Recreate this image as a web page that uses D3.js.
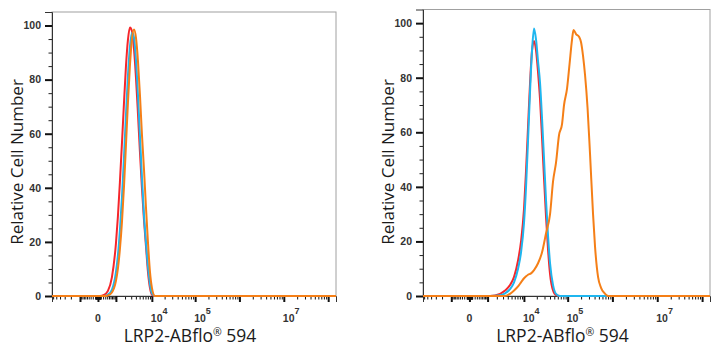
<!DOCTYPE html>
<html>
<head>
<meta charset="utf-8">
<script src="https://cdn.jsdelivr.net/npm/d3@7"></script>
<style>
  body { margin: 0; background: #fff; }
  svg { display: block; }
</style>
</head>
<body>
<svg width="719" height="350"></svg>
<script>
// axe x : intensité de fluorescence (biexponentielle, approchée par symlog)
const xDomain = [-6400, 1.5e8];
const yDomain = [0, 105];

// ticks de l'axe y (en % du max)
const yMajor = [0, 20, 40, 60, 80, 100];
const yMinor = [5, 10, 15, 25, 30, 35, 45, 50, 55, 65, 70, 75, 85, 90, 95];

// ticks de l'axe x
const xMajor = [-1000, 0, 1000, 1e4, 1e5, 1e6, 1e7, 1e8];
const xDecades = [10, 100, 1000, 1e4, 1e5, 1e6, 1e7];
const xMantissas = [2, 3, 4, 5, 6, 7, 8, 9];
const xLabelValues = [0, 1e4, 1e5, 1e7];
const xLabelExps = ["", "4", "5", "7"];

const yTitle = "Relative Cell Number";
const xTitle = ["LRP2-ABflo", "®", " 594"];

// panneau gauche : les trois courbes se superposent
const leftX = [70, 240, 440, 690, 1000, 1180, 1380, 1610, 1860, 2130, 2430, 2770, 3140, 3560, 4020, 4530, 5090, 5720, 6420, 7190, 8040, 9000, 10050, 11840];
const leftRed = [0, 0.4, 1.9, 6.9, 19.3, 29.4, 42.1, 56.6, 71.5, 85, 94.7, 99.3, 98, 91.4, 80.7, 67.4, 53.3, 39.9, 28.2, 18.5, 9, 3, 0.5, 0];
const leftBlue = [0, 0, 0.5, 2.3, 8.7, 15, 24.3, 36.6, 51.4, 66.9, 81.4, 92.2, 97.3, 95.6, 87.4, 74.5, 59.1, 43.8, 30, 20, 11, 4.5, 1, 0];
const leftOrange = [0, 0, 0.2, 1.3, 5.5, 10.1, 17.3, 27.4, 40.5, 55.8, 71.5, 85.4, 95, 98.5, 95.5, 86.9, 74.4, 59.7, 47, 33, 20, 9, 3, 0];

// panneau droit : contrôles (rouge, bleu) et échantillon (orange)
const rightX = [1220, 2480, 3390, 4570, 5770, 7230, 8540, 10070, 11230, 12510, 13940, 15520, 17260, 19200, 21350, 23730, 26360, 29290, 32510, 36110, 40100, 46870, 54800, 67400];
const rightRed = [0, 0.8, 2, 4, 7, 13, 20, 32, 46, 62, 78, 90, 93.5, 90, 82, 72, 58, 43, 29, 17, 8, 2, 0.3, 0];
const rightBlue = [0, 0.3, 1, 2.5, 5, 10, 16, 27, 40, 57, 75, 90, 98, 94, 86, 78, 65, 50, 35, 22, 12, 4, 0.8, 0];
const rightOrangeX = [3390, 4570, 5770, 7230, 8540, 10070, 11230, 12510, 14700, 17260, 21350, 26360, 32510, 40100, 46870, 54800, 64000, 74750, 82900, 96800, 110200, 125300, 135400, 154000, 179800, 199400, 221000, 245000, 278600, 316800, 369700, 409900, 478200, 557900, 650600, 799000];
const rightOrange = [0, 0.8, 2, 3.5, 5, 6.5, 7.2, 7.8, 8.3, 9.5, 12, 16, 23, 30, 42, 49, 59, 63, 70, 76, 85, 94, 97.5, 96, 95, 93, 88, 81, 69, 52, 30, 18, 7, 3, 1.2, 0];

const colors = { red: "#f5262b", blue: "#1fb6ef", orange: "#f57f17" };

// ticks mineurs = mantisses x décades (positifs et négatifs dans le domaine)
let xMinor = [];
for (const dec of xDecades) {
  for (const m of xMantissas) {
    const v = m * dec;
    if (v < xDomain[1]) xMinor.push(v);
    if (-v > xDomain[0]) xMinor.push(-v);
  }
}
xMinor = xMinor.concat([-100, 100, 10, -10]);

const panels = [
  {
    left: 52, right: 336, top: 12, bottom: 296,
    series: [
      { x: leftX, y: leftRed, color: colors.red },
      { x: leftX, y: leftBlue, color: colors.blue },
      { x: leftX, y: leftOrange, color: colors.orange },
    ],
  },
  {
    left: 423, right: 710, top: 9.5, bottom: 296,
    series: [
      { x: rightX, y: rightRed, color: colors.red },
      { x: rightX, y: rightBlue, color: colors.blue },
      { x: rightOrangeX, y: rightOrange, color: colors.orange },
    ],
  },
];

const svg = d3.select("svg");
const tickFont = "'Liberation Sans', Arial, sans-serif";
const titleFont = "'Open Sans', 'Noto Sans', sans-serif";

panels.forEach(drawPanel);

function drawPanel(p) {
  const x = d3.scaleSymlog().constant(650).domain(xDomain).range([p.left, p.right]);
  const y = d3.scaleLinear().domain(yDomain).range([p.bottom, p.top]);
  const g = svg.append("g");

  // cadre
  g.append("rect")
    .attr("x", p.left)
    .attr("y", p.top)
    .attr("width", p.right - p.left)
    .attr("height", p.bottom - p.top)
    .attr("fill", "none")
    .attr("stroke", "#a0a0a0");

  // axe y
  g.append("g")
    .attr("transform", "translate(" + p.left + ",0)")
    .call(d3.axisLeft(y).tickValues(yMinor).tickSize(3.5).tickFormat(""))
    .call((a) => a.select(".domain").remove())
    .selectAll("line").attr("stroke", "#222");
  const yAx = g.append("g")
    .attr("transform", "translate(" + p.left + ",0)")
    .call(d3.axisLeft(y).tickValues(yMajor).tickSize(7).tickPadding(4));
  yAx.select(".domain").attr("stroke", "#333");
  yAx.selectAll("line").attr("stroke", "#111").attr("stroke-width", 2);
  yAx.selectAll("text")
    .attr("font-family", tickFont)
    .attr("font-size", 10.5)
    .attr("font-weight", "bold")
    .attr("fill", "#333");

  // axe x
  g.append("g")
    .attr("transform", "translate(0," + p.bottom + ")")
    .call(d3.axisBottom(x).tickValues(xMinor).tickSize(3.5).tickFormat(""))
    .call((a) => a.select(".domain").remove())
    .selectAll("line").attr("stroke", "#111");
  const xAx = g.append("g")
    .attr("transform", "translate(0," + p.bottom + ")")
    .call(d3.axisBottom(x).tickValues(xMajor).tickSize(6).tickFormat(""));
  xAx.select(".domain").attr("stroke", "#333");
  xAx.selectAll("line").attr("stroke", "#111").attr("stroke-width", 2);

  // étiquettes x : 0, 10^4, 10^5, 10^7
  xLabelValues.forEach((v, i) => {
    const t = g.append("text")
      .attr("y", p.bottom + 26)
      .attr("font-family", tickFont)
      .attr("font-size", 10.5)
      .attr("font-weight", "bold")
      .attr("fill", "#333");
    if (xLabelExps[i] === "") {
      t.attr("x", x(v)).attr("text-anchor", "middle").text("0");
    } else {
      t.attr("x", x(v) - 1).attr("text-anchor", "start");
      t.append("tspan").text("10");
      t.append("tspan").attr("dy", -8).attr("font-size", 9).text(xLabelExps[i]);
    }
  });

  // titres
  g.append("text")
    .attr("transform", "translate(" + (p.left - 29) + ",162) rotate(-90)")
    .attr("text-anchor", "middle")
    .attr("font-family", titleFont)
    .attr("font-size", 17)
    .attr("fill", "#1a1a1a")
    .text(yTitle);

  const xt = g.append("text")
    .attr("x", (p.left + p.right) / 2 - 4)
    .attr("y", 342)
    .attr("text-anchor", "middle")
    .attr("font-family", titleFont)
    .attr("font-size", 17.5)
    .attr("fill", "#1a1a1a");
  xt.append("tspan").text(xTitle[0]);
  xt.append("tspan").attr("dy", -6).attr("font-size", 10.5).text(xTitle[1]);
  xt.append("tspan").attr("dy", 6).text(xTitle[2]);

  // histogrammes
  const line = d3.line()
    .x((d) => x(d[0]))
    .y((d) => y(d[1]))
    .curve(d3.curveMonotoneX);

  p.series.forEach((s) => {
    const pts = [[xDomain[0], 0]]
      .concat(s.x.map((v, i) => [v, s.y[i]]))
      .concat([[xDomain[1], 0]]);
    g.append("path")
      .datum(pts)
      .attr("fill", "none")
      .attr("stroke", s.color)
      .attr("stroke-width", 2)
      .attr("stroke-linejoin", "round")
      .attr("d", line);
  });
}
</script>
</body>
</html>
